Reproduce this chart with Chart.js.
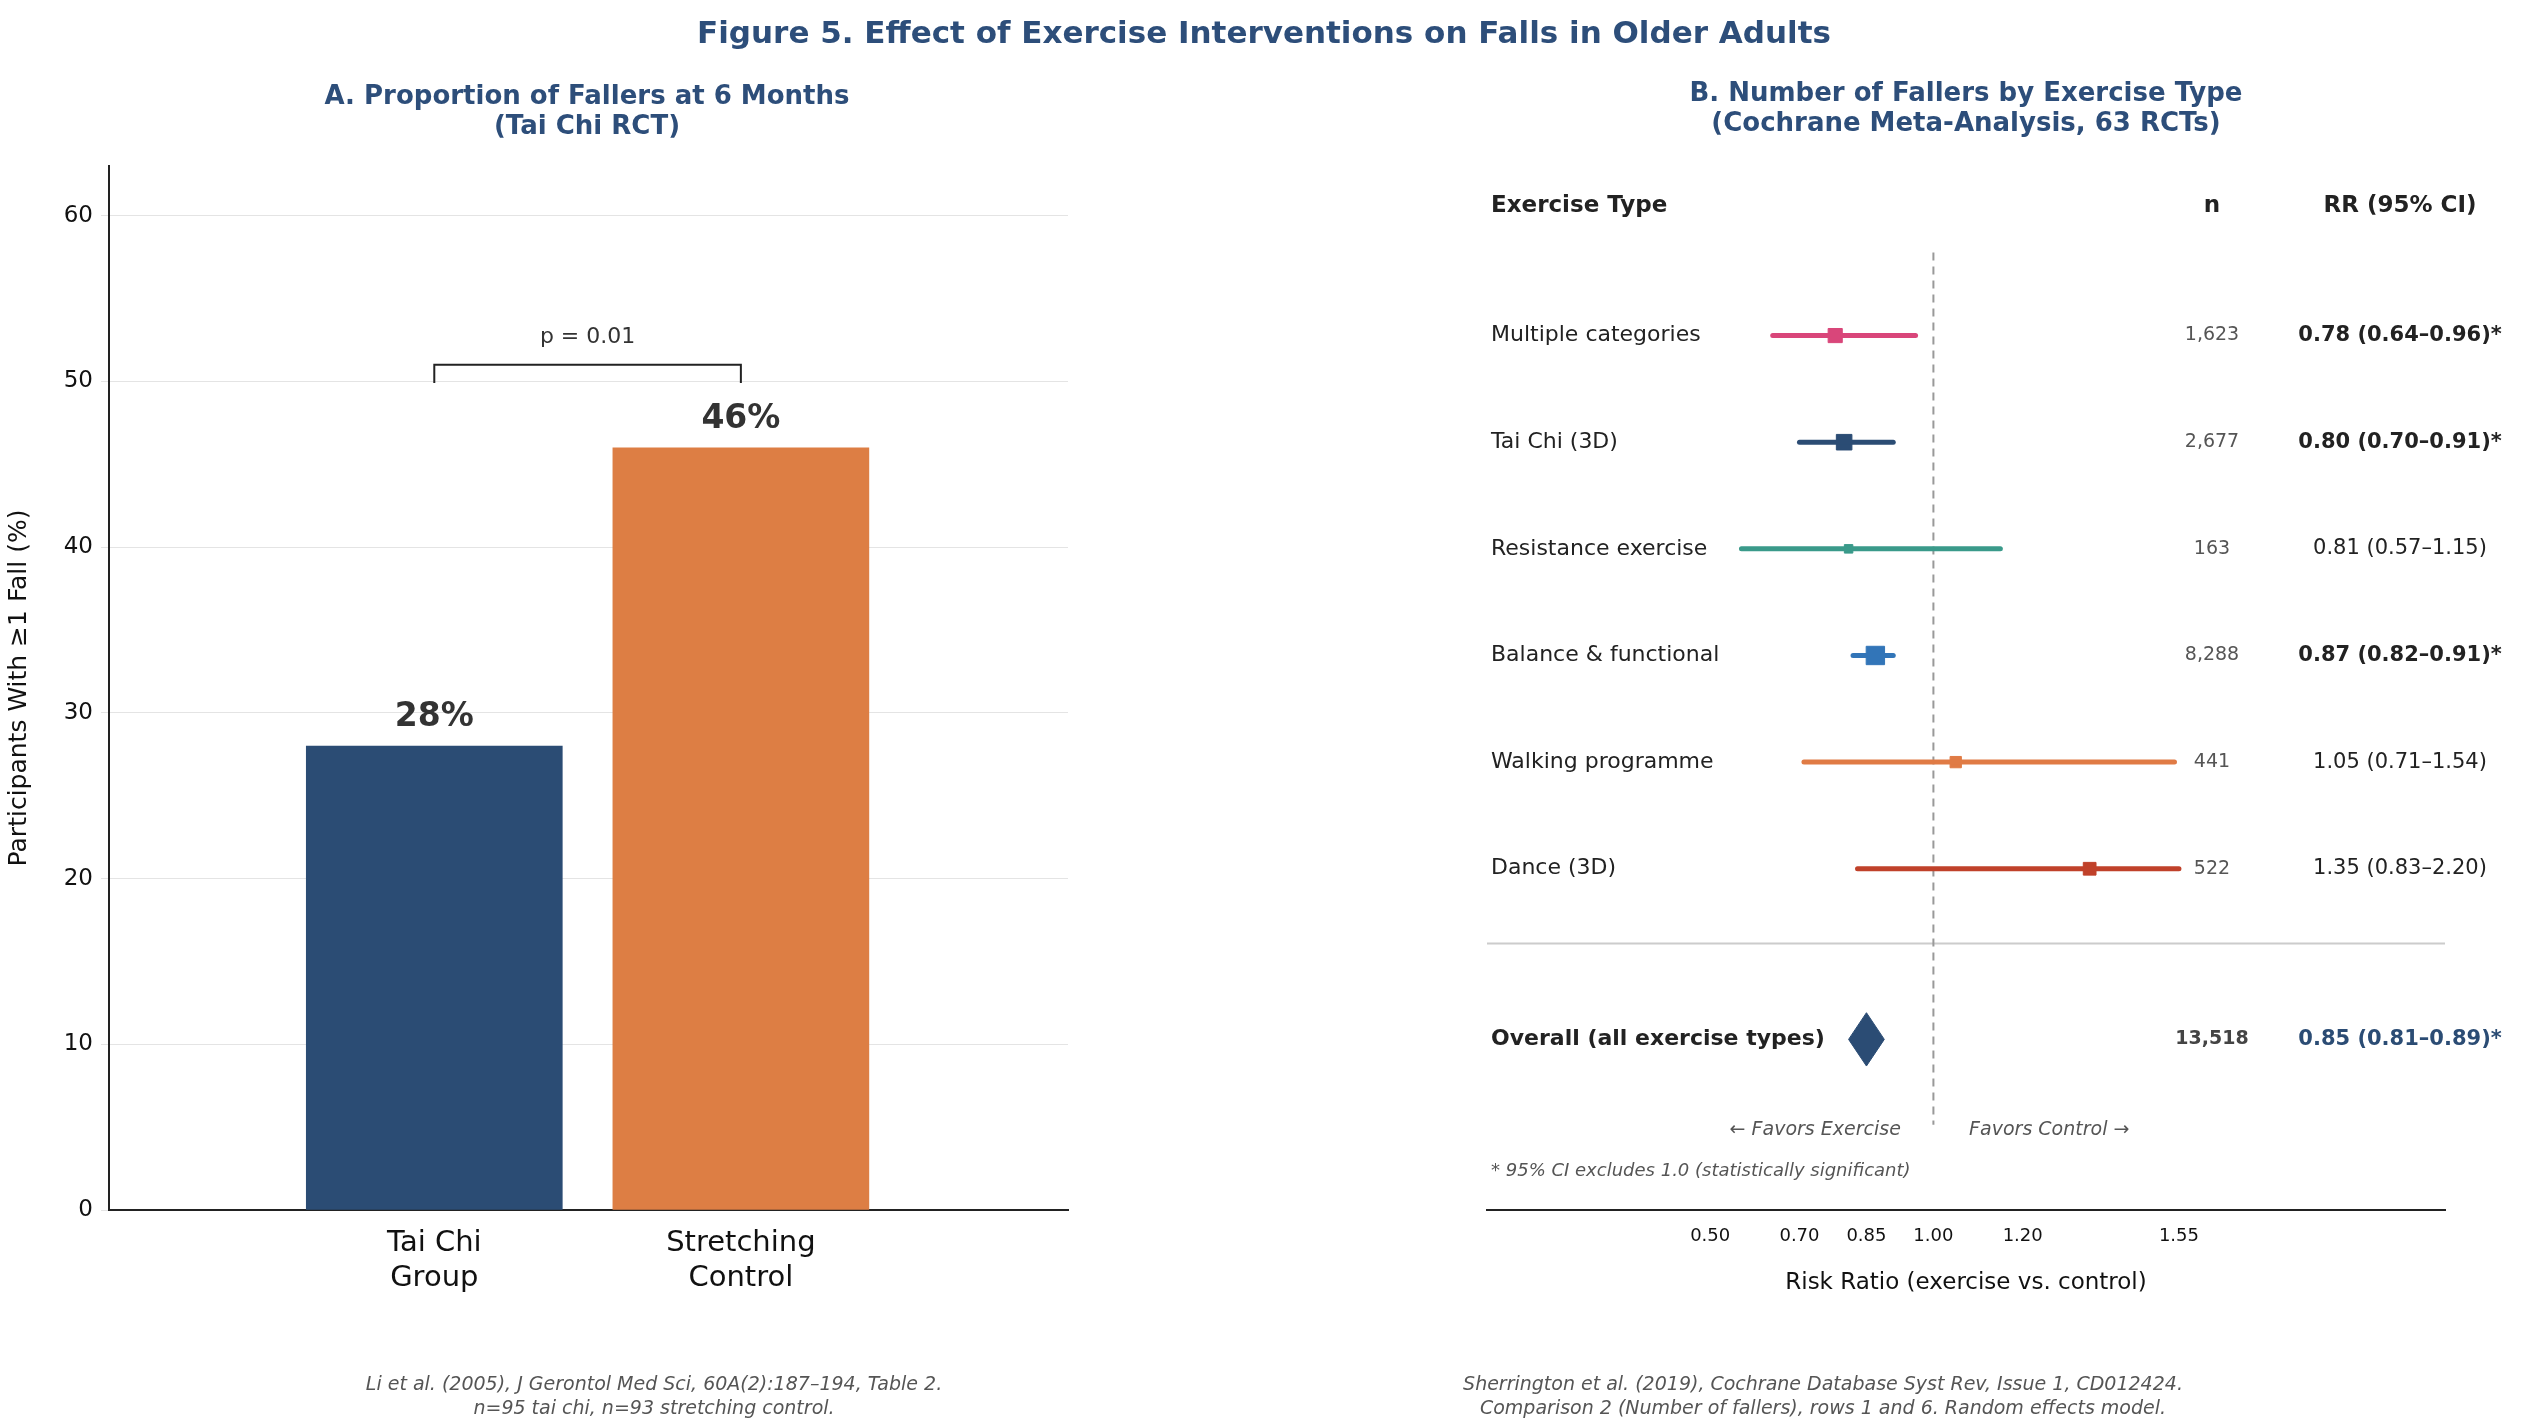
<!DOCTYPE html>
<html>
<head>
<meta charset="utf-8">
<script src="https://cdn.jsdelivr.net/npm/chart.js@4"></script>
<style>
  body { margin: 0; background: #fff; width: 2528px; height: 1420px; overflow: hidden; font-family: "DejaVu Sans"; }
  #title { position: absolute; top: 14px; left: 0; width: 2528px; text-align: center; font: bold 31px "DejaVu Sans"; color: #2d4e7a; z-index: 2; }
  .panel { position: absolute; top: 0; width: 1264px; height: 1420px; }
</style>
</head>
<body>
<div id="title">Figure 5. Effect of Exercise Interventions on Falls in Older Adults</div>
<div class="panel" style="left:0"><canvas id="left" width="1264" height="1420"></canvas></div>
<div class="panel" style="left:1264px"><canvas id="right" width="1264" height="1420"></canvas></div>
<script>
// panel A data
const groups = [["Tai Chi", "Group"], ["Stretching", "Control"]];
const fallerPct = [28, 46];
const barColors = ["#2b4c74", "#dd7e44"];
const yTicksA = [0, 10, 20, 30, 40, 50, 60];

// panel B data
const exerciseTypes = ["Multiple categories", "Tai Chi (3D)", "Resistance exercise", "Balance & functional", "Walking programme", "Dance (3D)"];
const rr = [0.78, 0.80, 0.81, 0.87, 1.05, 1.35];
const ciLow = [0.64, 0.70, 0.57, 0.82, 0.71, 0.83];
const ciHigh = [0.96, 0.91, 1.15, 0.91, 1.54, 2.20];
const nParticipants = ["1,623", "2,677", "163", "8,288", "441", "522"];
const rrLabels = ["0.78 (0.64–0.96)*", "0.80 (0.70–0.91)*", "0.81 (0.57–1.15)", "0.87 (0.82–0.91)*", "1.05 (0.71–1.54)", "1.35 (0.83–2.20)"];
const significant = [true, true, false, true, false, false];
const markerSize = [10, 11, 6, 13, 8, 9];
const rowColors = ["#d9467a", "#2b4c74", "#3a9a8a", "#3275b8", "#e07b45", "#c0412a"];
const overall = { rr: 0.85, lo: 0.81, hi: 0.89, n: "13,518", label: "0.85 (0.81–0.89)*" };
const xTicksB = [0.50, 0.70, 0.85, 1.00, 1.20, 1.55];
const xClip = 1.55;

Chart.defaults.font.family = "DejaVu Sans";
Chart.defaults.color = "#222";
Chart.defaults.animation = false;

const F = (w, s, st) => (st || "") + " " + w + " " + s + "px DejaVu Sans";

// ---------- Panel A ----------
const leftText = {
  id: "leftText",
  afterDraw(c) {
    const g = c.ctx, x = c.scales.x, y = c.scales.y;
    g.save();
    g.textAlign = "center";
    g.fillStyle = "#2d4e7a";
    g.font = F("bold", 26);
    g.fillText("A. Proportion of Fallers at 6 Months", 587, 104);
    g.fillText("(Tai Chi RCT)", 587, 134);
    g.fillStyle = "#333";
    g.font = F("bold", 33);
    fallerPct.forEach((v, i) => g.fillText(v + "%", x.getPixelForValue(i), y.getPixelForValue(v) - 20));
    g.font = F("normal", 22);
    g.fillText("p = 0.01", (x.getPixelForValue(0) + x.getPixelForValue(1)) / 2, y.getPixelForValue(52.3));
    g.fillStyle = "#555";
    g.font = F("normal", 19, "italic");
    g.fillText("Li et al. (2005), J Gerontol Med Sci, 60A(2):187–194, Table 2.", 654, 1390);
    g.fillText("n=95 tai chi, n=93 stretching control.", 654, 1414);
    g.restore();
  }
};

new Chart(document.getElementById("left"), {
  type: "bar",
  data: {
    datasets: [
      {
        data: fallerPct.map((v, i) => ({ x: i, y: v })),
        backgroundColor: barColors,
        barThickness: 256
      },
      {
        type: "line",
        data: [{ x: 0, y: 49.9 }, { x: 0, y: 51 }, { x: 1, y: 51 }, { x: 1, y: 49.9 }],
        borderColor: "#222",
        borderWidth: 2,
        pointRadius: 0,
        tension: 0
      }
    ]
  },
  options: {
    responsive: false,
    devicePixelRatio: 1,
    layout: { padding: { top: 166, right: 196, left: 0, bottom: 0 } },
    plugins: { legend: { display: false }, tooltip: { enabled: false } },
    scales: {
      x: {
        type: "linear",
        min: -0.279, max: 1.285,
        afterBuildTicks: s => { s.ticks = [{ value: 0 }, { value: 1 }]; },
        afterFit: s => { s.height = 210; },
        ticks: { callback: v => groups[v], font: { size: 29 }, color: "#111", padding: 8 },
        grid: { display: false, tickLength: 8 },
        border: { color: "#222", width: 2 }
      },
      y: {
        min: 0, max: 63,
        afterBuildTicks: s => { s.ticks = yTicksA.map(v => ({ value: v })); },
        afterFit: s => { s.width = 109; },
        ticks: { font: { size: 23 }, color: "#111", padding: 8 },
        grid: { color: "#e4e4e4", borderDash: [2, 3], drawTicks: true, tickLength: 8 },
        border: { color: "#222", width: 2 },
        title: { display: true, text: "Participants With ≥1 Fall (%)", font: { size: 25 }, color: "#111" }
      }
    }
  },
  plugins: [leftText]
});

// ---------- Panel B ----------
const overallY = 6.6;
const rowDatasets = [];
exerciseTypes.forEach((t, i) => {
  rowDatasets.push({
    type: "line",
    data: [{ x: ciLow[i], y: i }, { x: Math.min(ciHigh[i], xClip), y: i }],
    borderColor: rowColors[i], borderWidth: 5, pointRadius: 0, borderCapStyle: "round"
  });
  rowDatasets.push({
    type: "scatter",
    data: [{ x: rr[i], y: i }],
    backgroundColor: rowColors[i], borderColor: rowColors[i],
    pointStyle: "rect", pointRadius: markerSize[i]
  });
});
rowDatasets.push({
  type: "scatter",
  showLine: true,
  fill: "shape",
  data: [{ x: overall.lo, y: overallY }, { x: overall.rr, y: overallY - 0.25 }, { x: overall.hi, y: overallY }, { x: overall.rr, y: overallY + 0.25 }, { x: overall.lo, y: overallY }],
  borderColor: "#2b4c74", backgroundColor: "#2b4c74", borderWidth: 1, pointRadius: 0
});
rowDatasets.push({
  type: "line",
  data: [{ x: 1, y: -0.78 }, { x: 1, y: 7.4 }],
  borderColor: "#999", borderWidth: 2, borderDash: [8, 6], pointRadius: 0
});
rowDatasets.push({
  type: "line",
  data: [{ x: 0, y: 5.7 }, { x: 2.146, y: 5.7 }],
  borderColor: "#ccc", borderWidth: 2, pointRadius: 0
});

const rightText = {
  id: "rightText",
  afterDraw(c) {
    const g = c.ctx, x = c.scales.x, y = c.scales.y;
    const nX = 948, rrX = 1136, labX = 227;
    g.save();
    g.textBaseline = "middle";
    g.textAlign = "center";
    g.fillStyle = "#2d4e7a";
    g.font = F("bold", 26);
    g.fillText("B. Number of Fallers by Exercise Type", 702, 94);
    g.fillText("(Cochrane Meta-Analysis, 63 RCTs)", 702, 124);
    g.fillStyle = "#222";
    g.font = F("bold", 23);
    const hy = y.getPixelForValue(-1.21);
    g.fillText("n", nX, hy);
    g.fillText("RR (95% CI)", rrX, hy);
    g.textAlign = "left";
    g.fillText("Exercise Type", labX, hy);
    exerciseTypes.forEach((t, i) => {
      const py = y.getPixelForValue(i);
      g.textAlign = "left"; g.fillStyle = "#222"; g.font = F("normal", 22);
      g.fillText(t, labX, py);
      g.textAlign = "center"; g.fillStyle = "#555"; g.font = F("normal", 19);
      g.fillText(nParticipants[i], nX, py);
      g.fillStyle = "#222"; g.font = F(significant[i] ? "bold" : "normal", 21);
      g.fillText(rrLabels[i], rrX, py);
    });
    const oy = y.getPixelForValue(overallY);
    g.textAlign = "left"; g.fillStyle = "#222"; g.font = F("bold", 22);
    g.fillText("Overall (all exercise types)", labX, oy);
    g.textAlign = "center"; g.fillStyle = "#444"; g.font = F("bold", 19);
    g.fillText(overall.n, nX, oy);
    g.fillStyle = "#2b4c74"; g.font = F("bold", 21);
    g.fillText(overall.label, rrX, oy);
    g.fillStyle = "#555"; g.font = F("normal", 19, "italic");
    const fy = y.getPixelForValue(7.45);
    g.textAlign = "right"; g.fillText("← Favors Exercise", x.getPixelForValue(0.927), fy);
    g.textAlign = "left"; g.fillText("Favors Control →", x.getPixelForValue(1.08), fy);
    g.font = F("normal", 18, "italic");
    g.fillText("* 95% CI excludes 1.0 (statistically significant)", labX, y.getPixelForValue(7.84));
    g.textAlign = "center"; g.fillStyle = "#111"; g.font = F("normal", 23);
    g.fillText("Risk Ratio (exercise vs. control)", 702, 1283);
    g.fillStyle = "#555"; g.font = F("normal", 19, "italic");
    g.textBaseline = "alphabetic";
    g.fillText("Sherrington et al. (2019), Cochrane Database Syst Rev, Issue 1, CD012424.", 559, 1390);
    g.fillText("Comparison 2 (Number of fallers), rows 1 and 6. Random effects model.", 559, 1414);
    g.restore();
  }
};

new Chart(document.getElementById("right"), {
  type: "scatter",
  data: { datasets: rowDatasets },
  options: {
    responsive: false,
    devicePixelRatio: 1,
    layout: { padding: { top: 166, right: 83, left: 223, bottom: 0 } },
    plugins: { legend: { display: false }, tooltip: { enabled: false } },
    scales: {
      x: {
        type: "linear", min: 0, max: 2.146,
        afterBuildTicks: s => { s.ticks = xTicksB.map(v => ({ value: v })); },
        afterFit: s => { s.height = 210; },
        ticks: { callback: v => v.toFixed(2), font: { size: 18 }, color: "#111", padding: 8, maxRotation: 0, autoSkip: false },
        grid: { display: false, tickLength: 8 },
        border: { color: "#222", width: 2 }
      },
      y: { type: "linear", reverse: true, min: -1.59, max: 8.2, display: false }
    }
  },
  plugins: [rightText]
});
</script>
</body>
</html>
